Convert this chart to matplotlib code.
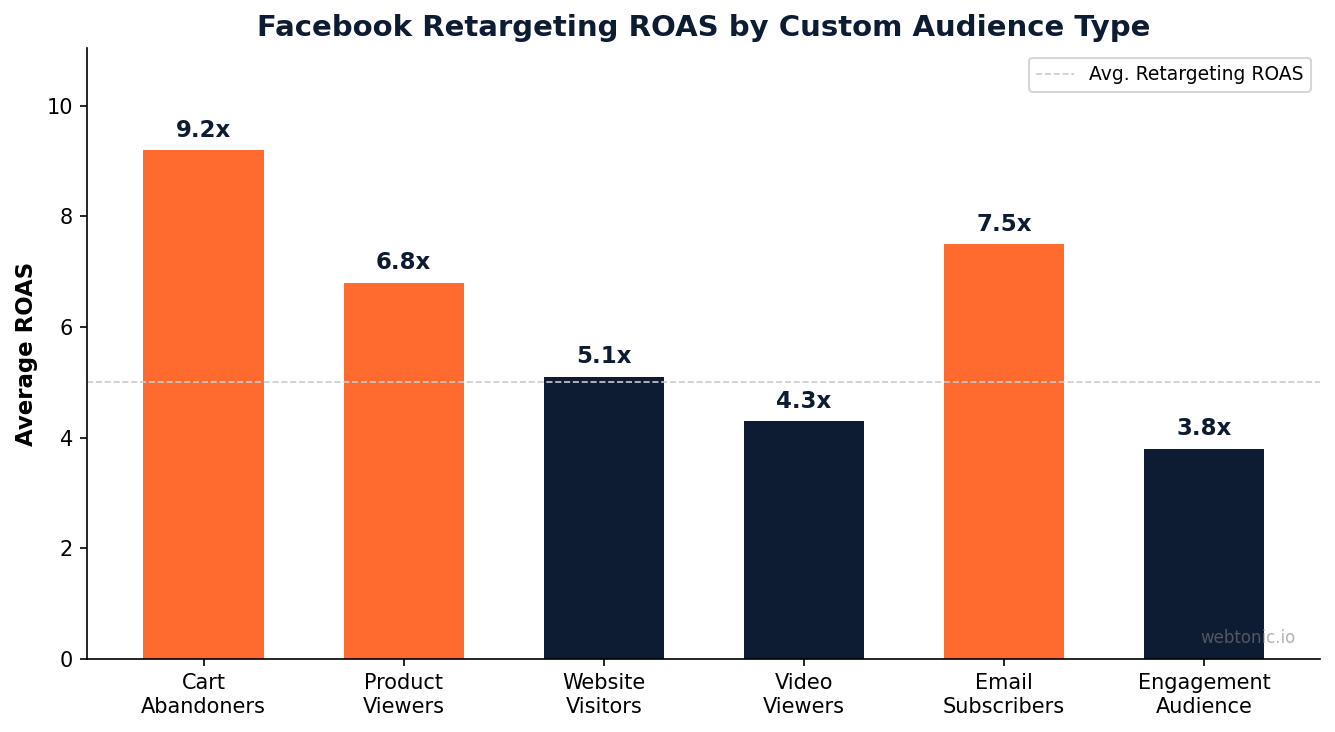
import matplotlib
matplotlib.use("Agg")
import matplotlib.pyplot as plt

categories = ["Cart\nAbandoners", "Product\nViewers", "Website\nVisitors",
              "Video\nViewers", "Email\nSubscribers", "Engagement\nAudience"]
roas = [9.2, 6.8, 5.1, 4.3, 7.5, 3.8]
avg_roas = 5.0

orange = "#FF6B2E"
navy = "#0D1B33"
colors = [orange if v > avg_roas + 0.5 else navy for v in roas]

fig, ax = plt.subplots(figsize=(8.9, 4.88), dpi=150)
x = range(len(categories))
bars = ax.bar(x, roas, width=0.6, color=colors)

for b, v in zip(bars, roas):
    ax.text(b.get_x() + b.get_width() / 2, v + 0.15, f"{v}x",
            ha="center", va="bottom", fontsize=11, fontweight="bold", color=navy)

ax.axhline(avg_roas, color="#cccccc", linestyle="--", linewidth=0.8,
           label="Avg. Retargeting ROAS")

ax.set_xticks(list(x))
ax.set_xticklabels(categories, fontsize=10)
ax.tick_params(axis="y", labelsize=10)
ax.set_ylim(0, max(roas) * 1.2)
ax.set_ylabel("Average ROAS", fontsize=11, fontweight="bold")
ax.set_title("Facebook Retargeting ROAS by Custom Audience Type",
             fontsize=14, fontweight="bold", color=navy)
ax.spines["top"].set_visible(False)
ax.spines["right"].set_visible(False)
ax.legend(loc="upper right", fontsize=9)

ax.text(0.98, 0.02, "webtonic.io", transform=ax.transAxes, ha="right",
        va="bottom", fontsize=8, color="gray", alpha=0.6)

fig.subplots_adjust(left=0.0655, right=0.989, top=0.934, bottom=0.1)
fig.savefig("out.png")
